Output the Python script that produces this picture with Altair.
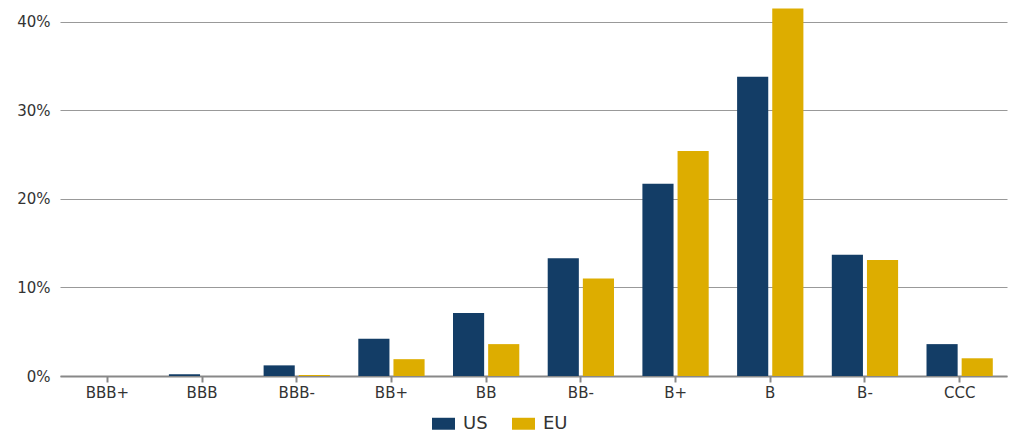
import altair as alt
import pandas as pd

ratings = ["BBB+", "BBB", "BBB-", "BB+", "BB", "BB-", "B+", "B", "B-", "CCC"]
us = [0.0, 0.2, 1.2, 4.2, 7.1, 13.3, 21.7, 33.8, 13.7, 3.6]
eu = [0.0, 0.0, 0.1, 1.9, 3.6, 11.0, 25.4, 41.5, 13.1, 2.0]
series = ["US", "EU"]
colors = ["#133d66", "#ddad00"]

rows = []
for r, u, e in zip(ratings, us, eu):
    rows.append({"rating": r, "region": "US", "value": u / 100})
    rows.append({"rating": r, "region": "EU", "value": e / 100})
df = pd.DataFrame(rows)

font = "DejaVu Sans"

chart = alt.Chart(df).mark_bar().encode(
    x=alt.X("rating:N", sort=ratings, title=None,
            scale=alt.Scale(paddingInner=0.3, paddingOuter=0.15),
            axis=alt.Axis(labelAngle=0, labelFontSize=15, labelColor="#333333",
                          labelFont=font, domainColor="#888888", domainWidth=2,
                          tickColor="#888888", tickSize=6, tickWidth=2, labelPadding=3)),
    xOffset=alt.XOffset("region:N", sort=series, scale=alt.Scale(paddingInner=0.114)),
    y=alt.Y("value:Q", title=None,
            scale=alt.Scale(domain=[0, 0.42], nice=False),
            axis=alt.Axis(values=[0, 0.1, 0.2, 0.3, 0.4], format=".0%", labelFontSize=15,
                          labelColor="#333333", labelFont=font, domain=False, ticks=False,
                          labelPadding=10, gridColor="#999999", gridWidth=1)),
    color=alt.Color("region:N", sort=series,
                    scale=alt.Scale(domain=series, range=colors),
                    legend=alt.Legend(title=None, orient="none", direction="horizontal",
                                      legendX=372, legendY=408,
                                      symbolType="M-1,-0.52H1V0.52H-1Z", symbolSize=529,
                                      symbolStrokeWidth=0, labelFontSize=18, labelFont=font,
                                      labelColor="#333333", columnPadding=24, labelOffset=8,
                                      symbolOpacity=1)),
).properties(
    width=947, height=372,
    padding={"left": 60, "top": 4, "right": 5, "bottom": 56},
    autosize=alt.AutoSizeParams(type="none"),
).configure_view(stroke=None).configure_axis(gridDash=[])

chart.save("out.html", embed_options={"renderer": "svg", "actions": False})
